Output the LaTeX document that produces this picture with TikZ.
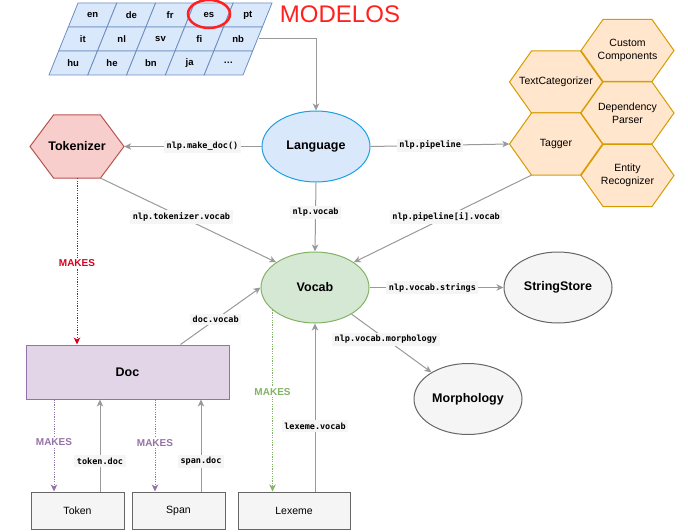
\documentclass[tikz,border=0pt]{standalone}
\usepackage{fontspec}
\setmainfont{Liberation Sans}
\setmonofont{DejaVu Sans Mono}
\usepackage{tikz}
\usetikzlibrary{arrows.meta,calc,positioning,shapes.geometric}
\definecolor{linegray}{HTML}{999999}
\definecolor{lblfill}{HTML}{F5F5F5}
\definecolor{boxline}{HTML}{666666}
\definecolor{cellfill}{HTML}{DAE8FC}
\definecolor{cellline}{HTML}{6C8EBF}
\definecolor{langline}{HTML}{1BA1E2}
\definecolor{tokfill}{HTML}{F8CECC}
\definecolor{tokline}{HTML}{B85450}
\definecolor{pipefill}{HTML}{FFE6CC}
\definecolor{pipeline}{HTML}{D79B00}
\definecolor{vocabfill}{HTML}{D5E8D4}
\definecolor{vocabline}{HTML}{82B366}
\definecolor{docfill}{HTML}{E1D5E7}
\definecolor{docline}{HTML}{9673A6}
\definecolor{mkred}{HTML}{D80020}
\definecolor{modred}{HTML}{FF2020}

\tikzset{
  conn/.style={draw=linegray, line width=1pt, -{Stealth[length=7pt,width=6.5pt,inset=2pt]}},
  makes/.style={line width=1pt, dash pattern=on 1.2pt off 1.2pt, -{Stealth[length=7pt,width=6.5pt,inset=2pt]}},
  lbl/.style={fill=lblfill, inner sep=2.5pt, font=\ttfamily\bfseries\fontsize{8.5}{10}\selectfont},
  makeslbl/.style={fill=white, inner sep=1.5pt, font=\bfseries\fontsize{10}{12}\selectfont},
  hexa/.style={rectangle, minimum width=93pt, minimum height=62pt, inner sep=0pt, align=center,
    font=\fontsize{10.5}{12.5}\selectfont},
  hexline/.style={fill=pipefill, draw=pipeline, line width=1pt, line join=miter},
  bubble/.style={ellipse, minimum width=108pt, minimum height=71pt, inner sep=0pt, line width=1pt,
    font=\bfseries\fontsize{12.5}{15}\selectfont},
  objbox/.style={rectangle, minimum width=93pt, minimum height=37pt, inner sep=0pt, line width=1pt,
    fill=lblfill, draw=boxline, font=\fontsize{10.5}{12.5}\selectfont},
  cell/.style={fill=cellfill, draw=cellline, line width=0.8pt},
  celltxt/.style={font=\bfseries\fontsize{9.5}{11}\selectfont, inner sep=0pt}
}

\begin{document}
\begin{tikzpicture}[x=1pt,y=-1pt]
  \useasboundingbox (0,0) rectangle (688,532);
  % Draw the grid of language models
  \foreach \lang [count=\i from 0] in {en,de,fr,es,pt,it,nl,sv,fi,nb,hu,he,bn,ja,\dots}{
    \pgfmathtruncatemacro{\rw}{\i/5}
    \pgfmathtruncatemacro{\cl}{\i-5*\rw}
    \pgfmathsetmacro{\xa}{78-9.67*\rw+38.8*\cl}
    \pgfmathsetmacro{\ya}{3+24*\rw}
    \draw[cell] (\xa,\ya) -- ++(38.8,0) -- ++(-9.67,24) -- ++(-38.8,0) -- cycle;
    \node[celltxt] (lang-\i) at (\xa+14.57,\ya+12) {\lang};
  }
  \node[ellipse, draw=modred, line width=2.5pt, minimum width=42pt, minimum height=28pt] (esmark) at (209,14) {};
  \node[text=modred, font=\fontsize{24}{28}\selectfont, inner sep=0pt] (modelos) at (340,14) {MODELOS};
  \coordinate (gridout) at (259,39);

  % Main objects
  \node[bubble, fill=cellfill, draw=langline] (language) at (316,146.5) {Language};
  \draw[hexline, fill=tokfill, draw=tokline] (30,146.5) -- ++(23.5,-31.5) -- ++(47,0) -- ++(23.5,31.5)
    -- ++(-23.5,31.5) -- ++(-47,0) -- cycle;
  \node[hexa, minimum width=94pt, minimum height=63pt, font=\bfseries\fontsize{12.5}{15}\selectfont]
    (tokenizer) at (77,146.5) {Tokenizer};
  \node[bubble, fill=vocabfill, draw=vocabline] (vocab) at (315,287.5) {Vocab};
  \node[bubble, fill=lblfill, draw=boxline] (stringstore) at (558,287.5) {StringStore};
  \node[bubble, fill=lblfill, draw=boxline] (morphology) at (468,399) {Morphology};
  \node[rectangle, fill=docfill, draw=docline, line width=1pt, minimum width=203pt, minimum height=54pt,
    font=\bfseries\fontsize{12.5}{15}\selectfont] (doc) at (127.5,372) {Doc};

  % Pipeline components
  \foreach \nm/\x/\y/\txt in {textcat/556/82/TextCategorizer, tagger/556/144/Tagger,
      custom/627.5/50.5/{Custom\\Components}, parser/627.5/113/{Dependency\\Parser},
      ner/627.5/175.5/{Entity\\Recognizer}}{
    \draw[hexline] (\x-46.5,\y) -- ++(22,-31) -- ++(49,0) -- ++(22,31) -- ++(-22,31) -- ++(-49,0) -- cycle;
    \node[hexa] (\nm) at (\x,\y) {\txt};
  }

  % Objects made by Doc and Vocab
  \node[objbox] (token) at (77.5,510.5) {Token};
  \node[objbox] (span) at (178.5,510.5) {Span};
  \node[objbox, minimum width=112pt] (lexeme) at (294,510.5) {Lexeme};

  % Connectors from Language
  \draw[conn] (gridout) -| (language.north);
  \draw[conn] (language.west) -- node[lbl, pos=.43] {nlp.make\_doc()} (tokenizer.east);
  \draw[conn] (language.east) -- node[lbl, pos=.43] {nlp.pipeline} (tagger.west);
  \draw[conn] (language.south) -- node[lbl, pos=.43] {nlp.vocab} (vocab.north);

  % Connectors into Vocab
  \draw[conn] ([xshift=-23.5pt]tokenizer.south east) -- node[lbl, pos=.46] {nlp.tokenizer.vocab} (vocab.147);
  \draw[conn] ([xshift=22pt]tagger.south west) -- node[lbl, pos=.48] {nlp.pipeline[i].vocab} (vocab.33);
  \draw[conn] ([xshift=-49pt]doc.north east) -- node[lbl, pos=.44] {doc.vocab} (vocab.west);
  \draw[conn] (vocab.east) -- node[lbl, pos=.47] {nlp.vocab.strings} (stringstore.west);
  \draw[conn] (vocab) -- node[lbl, pos=.43] {nlp.vocab.morphology} (morphology);

  % MAKES connectors
  \draw[makes, draw=mkred] (tokenizer.south) -- node[makeslbl, text=mkred, pos=.51] {MAKES} (tokenizer.south |- doc.north);
  \coordinate (tokmk) at ([xshift=-23.5pt]token.north);
  \coordinate (tokup) at ([xshift=22.5pt]token.north);
  \coordinate (spanmk) at ([xshift=-23.5pt]span.north);
  \coordinate (spanup) at ([xshift=22.5pt]span.north);
  \draw[makes, draw=docline] (tokmk |- doc.south) -- node[makeslbl, text=docline, pos=.46] {MAKES} (tokmk);
  \draw[makes, draw=docline] (spanmk |- doc.south) -- node[makeslbl, text=docline, pos=.47] {MAKES} (spanmk);
  \draw[makes, draw=vocabline] (vocab.208) -- node[makeslbl, text=vocabline, pos=.45] {MAKES} (vocab.208 |- lexeme.north);

  % Back references
  \draw[conn] (tokup) -- node[lbl, pos=.33] {token.doc} (tokup |- doc.south);
  \draw[conn] (spanup) -- node[lbl, pos=.33] {span.doc} (spanup |- doc.south);
  \draw[conn] (vocab.south |- lexeme.north) -- node[lbl, pos=.39] {lexeme.vocab} (vocab.south);
\end{tikzpicture}
\end{document}
